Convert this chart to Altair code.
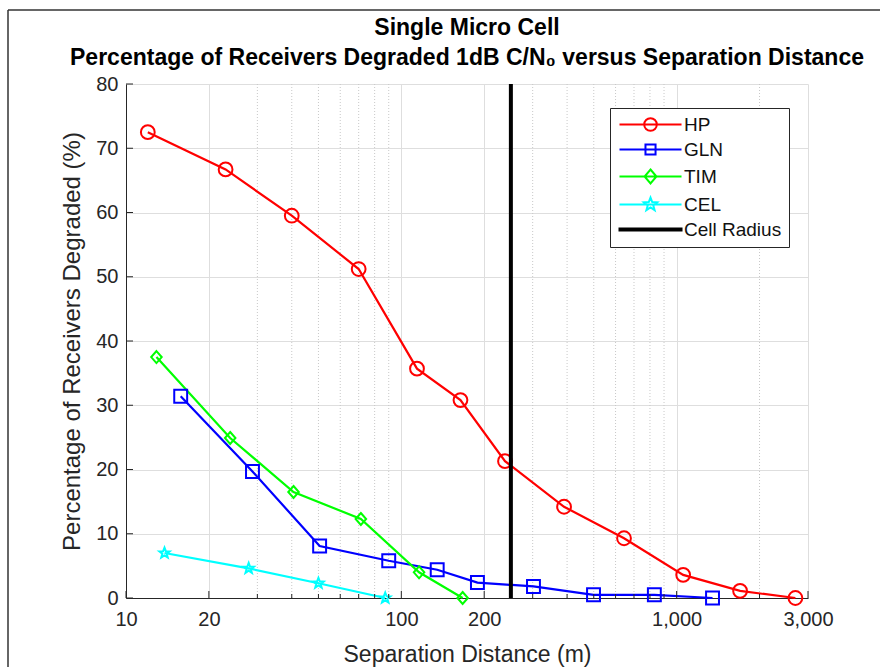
import math
import altair as alt
import pandas as pd

# ---------------- data ----------------
series_names = ["HP", "GLN", "TIM", "CEL"]
series_colors = ["#ff0000", "#0000ff", "#00ff00", "#00ffff"]

hp_x = [12, 23, 40, 70, 114, 164, 238, 390, 644, 1056, 1700, 2700]
hp_y = [72.5, 66.7, 59.5, 51.2, 35.7, 30.8, 21.3, 14.2, 9.3, 3.6, 1.1, 0.0]
gln_x = [15.8, 28.8, 50.5, 90, 135, 189, 302, 499, 830, 1350]
gln_y = [31.4, 19.7, 8.1, 5.8, 4.4, 2.4, 1.8, 0.5, 0.5, 0.0]
tim_x = [12.9, 23.9, 40.6, 71.3, 116, 167]
tim_y = [37.5, 24.9, 16.5, 12.3, 4.0, 0.0]
cel_x = [13.8, 27.9, 50, 87.4]
cel_y = [7.0, 4.6, 2.3, 0.0]

cell_radius_m = [250]

legend_labels = ["HP", "GLN", "TIM", "CEL", "Cell Radius"]
legend_colors = series_colors + ["#000000"]

x_major_ticks = [10, 20, 100, 200, 1000, 3000]
x_minor_ticks = [30, 40, 50, 60, 70, 80, 90, 300, 400, 500, 600, 700, 800, 900, 2000]
y_ticks = [0, 10, 20, 30, 40, 50, 60, 70, 80]

title_lines = [
    "Single Micro Cell",
    "Percentage of Receivers Degraded 1dB C/N\u2080 versus Separation Distance",
]
x_title = "Separation Distance (m)"
y_title = "Percentage of Receivers Degraded (%)"

# ---------------- layout / style ----------------
W, H = 682, 514
FONT = "Liberation Sans"
AX = "#262626"
GRID = "#dedede"


def star_path(cx=0.0, r_out=1.0, r_in=0.42):
    pts = []
    for k in range(10):
        rr = r_out if k % 2 == 0 else r_in
        a = -math.pi / 2 + k * math.pi / 5
        pts.append((cx + rr * math.cos(a), rr * math.sin(a)))
    return "M" + "L".join(f"{x:.3f},{y:.3f}" for x, y in pts) + "Z"


diamond_marker = "M0,-1L0.88,0L0,1L-0.88,0Z"
star_marker = star_path()

# legend symbols: line with the marker in its middle (units: 1 = 7px)
L0, L1 = -1.0, 7.86
CX = (L0 + L1) / 2
line_seg = f"M{L0},0L{L1},0"
r = 0.9
leg_circle = line_seg + f"M{CX + r:.3f},0A{r},{r},0,1,1,{CX - r:.3f},0A{r},{r},0,1,1,{CX + r:.3f},0Z"
h = 0.72
leg_square = line_seg + f"M{CX - h:.3f},{-h}L{CX + h:.3f},{-h}L{CX + h:.3f},{h}L{CX - h:.3f},{h}Z"
leg_diamond = line_seg + f"M{CX:.3f},-1L{CX + 0.85:.3f},0L{CX:.3f},1L{CX - 0.85:.3f},0Z"
leg_star = line_seg + star_path(cx=CX, r_out=1.0, r_in=0.42)
leg_rule = f"M{L0},-0.15L{L1},-0.15L{L1},0.15L{L0},0.15Z"
legend_shapes = [leg_circle, leg_square, leg_diamond, leg_star, leg_rule]

# ---------------- tables ----------------
rows = []
for name, xs, ys in zip(series_names, [hp_x, gln_x, tim_x, cel_x], [hp_y, gln_y, tim_y, cel_y]):
    for xv, yv in zip(xs, ys):
        rows.append({"series": name, "x": xv, "y": yv})
df = pd.DataFrame(rows)

xscale = alt.Scale(type="log", domain=[10, 3000], nice=False)
yscale = alt.Scale(domain=[0, 80], nice=False)

x_axis = alt.Axis(
    values=x_major_ticks, format=",.0f", grid=True, gridColor=GRID, gridWidth=1,
    ticks=False, domainColor=AX, domainWidth=1, labelColor=AX, labelFont=FONT,
    labelFontSize=20, labelPadding=11, title=x_title, titleFont=FONT,
    titleFontSize=23, titleFontWeight="normal", titleColor=AX, titlePadding=14,
    labelFlush=False,
)
y_axis = alt.Axis(
    values=y_ticks, grid=True, gridColor=GRID, gridWidth=1, ticks=False,
    domainColor=AX, domainWidth=1, labelColor=AX, labelFont=FONT,
    labelFontSize=20, labelPadding=8, title=y_title, titleFont=FONT,
    titleFontSize=24, titleFontWeight="normal", titleColor=AX, titlePadding=11,
)

base = alt.Chart(df)

grid_minor = alt.Chart(pd.DataFrame({"x": x_minor_ticks})).mark_rule(
    color="#c8c8c8", strokeWidth=1, strokeDash=[1, 2]
).encode(x=alt.X("x:Q", scale=xscale, axis=x_axis))

lines = base.mark_line(strokeWidth=2.2).encode(
    x=alt.X("x:Q", scale=xscale, axis=x_axis),
    y=alt.Y("y:Q", scale=yscale, axis=y_axis),
    color=alt.Color("series:N", scale=alt.Scale(domain=series_names, range=series_colors), legend=None),
    detail="series:N",
)

points = base.mark_point(filled=False, strokeWidth=2, opacity=1).encode(
    x=alt.X("x:Q", scale=xscale),
    y=alt.Y("y:Q", scale=yscale),
    color=alt.Color("series:N", scale=alt.Scale(domain=series_names, range=series_colors), legend=None),
    shape=alt.Shape("series:N", scale=alt.Scale(domain=series_names,
                    range=["circle", "square", diamond_marker, star_marker]), legend=None),
    size=alt.Size("series:N", scale=alt.Scale(domain=series_names, range=[190, 120, 200, 170]), legend=None),
)

radius_rule = alt.Chart(pd.DataFrame({"x": cell_radius_m})).mark_rule(
    color="black", strokeWidth=4
).encode(x=alt.X("x:Q", scale=xscale))

x_major_tick_marks = alt.Chart(pd.DataFrame({"x": x_major_ticks})).mark_rule(
    color=AX, strokeWidth=1
).encode(x=alt.X("x:Q", scale=xscale), y=alt.value(H), y2=alt.value(H - 7))
x_minor_tick_marks = alt.Chart(pd.DataFrame({"x": x_minor_ticks})).mark_rule(
    color=AX, strokeWidth=1
).encode(x=alt.X("x:Q", scale=xscale), y=alt.value(H), y2=alt.value(H - 4))
y_tick_marks = alt.Chart(pd.DataFrame({"y": y_ticks})).mark_rule(
    color=AX, strokeWidth=1
).encode(y=alt.Y("y:Q", scale=yscale), x=alt.value(0), x2=alt.value(7))

legend_layer = alt.Chart(pd.DataFrame({"entry": legend_labels})).mark_point(
    filled=False, strokeWidth=2, opacity=0
).encode(
    color=alt.Color("entry:N", scale=alt.Scale(domain=legend_labels, range=legend_colors),
                    legend=alt.Legend(title=None)),
    shape=alt.Shape("entry:N", scale=alt.Scale(domain=legend_labels, range=legend_shapes),
                    legend=alt.Legend(title=None)),
)

# figure-window border (top and left edges)
frame = alt.Chart(pd.DataFrame({"k": [0]})).mark_rule(color="#333333", strokeWidth=1.5).encode(
    x=alt.value(-118), x2=alt.value(W + 80), y=alt.value(-74)
)
frame_left = alt.Chart(pd.DataFrame({"k": [0]})).mark_rule(color="#333333", strokeWidth=1.5).encode(
    x=alt.value(-118), y=alt.value(-74), y2=alt.value(H + 80)
)

chart = alt.layer(
    grid_minor, lines, points, radius_rule,
    x_major_tick_marks, x_minor_tick_marks, y_tick_marks, legend_layer, frame, frame_left,
).resolve_scale(
    color="independent", shape="independent", size="independent"
).properties(
    width=W, height=H,
    autosize=alt.AutoSizeParams(type="none"),
    padding={"left": 126, "top": 84, "right": 72, "bottom": 69},
    background="white",
    title=alt.TitleParams(
        text=title_lines, font=FONT, fontSize=23, fontWeight="bold", color="black",
        lineHeight=30, offset=14, dy=75, anchor="middle", frame="group",
    ),
).configure_view(stroke=None).configure_legend(
    orient="none", legendX=484, legendY=24, padding=7, fillColor="white",
    strokeColor=AX, strokeWidth=1, symbolSize=196, symbolStrokeWidth=2,
    symbolOpacity=1, labelFont=FONT, labelFontSize=19, labelColor="#111111",
    labelOffset=48, rowPadding=5,
)

chart.save("out.html", embed_options={"renderer": "svg", "actions": False})
